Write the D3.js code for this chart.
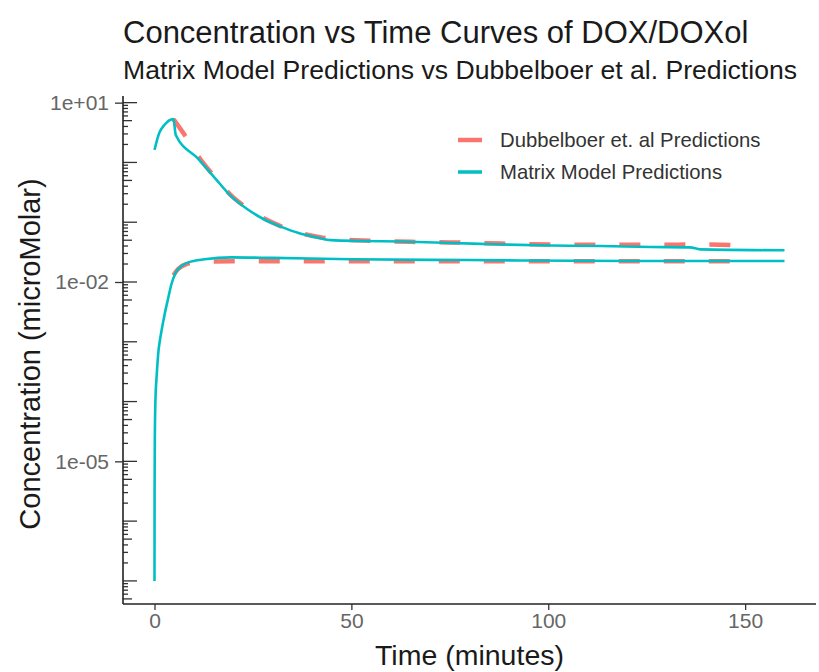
<!DOCTYPE html>
<html>
<head>
<meta charset="utf-8">
<script src="https://cdn.jsdelivr.net/npm/d3@7/dist/d3.min.js"></script>
<style>
  html, body { margin: 0; padding: 0; background: #ffffff; }
  svg { display: block; font-family: "Liberation Sans", Arial, sans-serif; }
</style>
</head>
<body>
<svg id="chart" width="819" height="672"></svg>
<script>
// ---- Data ----
const titleText = "Concentration vs Time Curves of DOX/DOXol";
const subtitleText = "Matrix Model Predictions vs Dubbelboer et al. Predictions";
const xTitle = "Time (minutes)";
const yTitle = "Concentration (microMolar)";
const seriesNames = ["Dubbelboer et. al Predictions", "Matrix Model Predictions"];
const xTicks = [0, 50, 100, 150];
const yTicks = [1e1, 1e-2, 1e-5];
const yTickLabels = ["1e+01", "1e-02", "1e-05"];

// Matrix model, DOX (upper curve)
const matrixDoxTime = [0, 1.2, 2.5, 4.8, 5.4, 11.1, 15.3, 19.5, 23.7, 27.9, 32.2, 36.4, 41.5, 44.8, 52.5, 62.6, 75.3, 88, 100.6, 113.3, 126, 136, 138.6, 160];
const matrixDoxConc = [1.62, 3.10, 4.22, 5.31, 2.88, 1.15, 0.553, 0.270, 0.163, 0.111, 0.0837, 0.0665, 0.0550, 0.0501, 0.0485, 0.0476, 0.0450, 0.0425, 0.0408, 0.0400, 0.0386, 0.0380, 0.0351, 0.0339];
// Matrix model, DOXol (lower curve)
const matrixDoxolTime = [0, 0.02, 0.08, 0.25, 0.5, 0.76, 1.01, 1.39, 1.77, 2.53, 3.42, 4.3, 5.3, 6.8, 8.6, 12.7, 19.5, 30, 50, 80, 120, 160];
const matrixDoxolConc = [1.0e-7, 3e-6, 2.4e-5, 1.12e-4, 2.40e-4, 4.45e-4, 7.03e-4, 1.07e-3, 1.51e-3, 2.79e-3, 5.16e-3, 9.17e-3, 0.0140, 0.0183, 0.0213, 0.0240, 0.0258, 0.0253, 0.0240, 0.0233, 0.0224, 0.0224];
// Dubbelboer et al., DOX
const dubDoxTime = [4.8, 8, 11, 15, 20, 24, 28, 32, 36, 42, 48, 55, 65, 75, 88, 100, 113, 126, 140, 150];
const dubDoxConc = [5.31, 2.67, 1.30, 0.60, 0.26, 0.165, 0.114, 0.086, 0.069, 0.056, 0.051, 0.049, 0.047, 0.046, 0.044, 0.0425, 0.042, 0.0418, 0.0424, 0.0408];
// Dubbelboer et al., DOXol
const dubDoxolTime = [4.8, 6, 8, 11, 15, 20, 30, 50, 80, 120, 150];
const dubDoxolConc = [0.0130, 0.0165, 0.0198, 0.0212, 0.0220, 0.0222, 0.0222, 0.0222, 0.0222, 0.0222, 0.0222];

const colors = ["#F8766D", "#00BFC4"];

// ---- Layout ----
const svg = d3.select("#chart");
const padL = 123, padR = 816, padT = 96, padB = 604;

const allTimes = [].concat(matrixDoxTime, matrixDoxolTime, dubDoxTime, dubDoxolTime);
const allConc = [].concat(matrixDoxConc, matrixDoxolConc, dubDoxConc, dubDoxolConc);
const [tMin, tMax] = d3.extent(allTimes);
const tPad = (tMax - tMin) * 0.05;
const x = d3.scaleLinear().domain([tMin - tPad, tMax + tPad]).range([padL, padR]);

const lMin = Math.log10(d3.min(allConc)), lMax = Math.log10(d3.max(allConc));
const lPad = (lMax - lMin) * 0.05;
const y = d3.scaleLog().domain([Math.pow(10, lMin - lPad), Math.pow(10, lMax + lPad)]).range([padB, padT]);

// ---- Titles ----
svg.append("text").attr("x", padL).attr("y", 43)
  .attr("font-size", 31).attr("fill", "#1a1a1a").text(titleText);
svg.append("text").attr("x", padL).attr("y", 79)
  .attr("font-size", 26.6).attr("fill", "#1a1a1a").text(subtitleText);

// ---- Lines ----
const line = d3.line().x(d => x(d[0])).y(d => y(d[1])).curve(d3.curveMonotoneX);
const zip = (a, b) => a.map((v, i) => [v, b[i]]);

const plot = svg.append("g");
[[dubDoxTime, dubDoxConc], [dubDoxolTime, dubDoxolConc]].forEach(([t, c]) => {
  plot.append("path").datum(zip(t, c)).attr("d", line)
    .attr("fill", "none").attr("stroke", colors[0]).attr("stroke-width", 4.5)
    .attr("stroke-dasharray", "21,24");
});
[[matrixDoxTime, matrixDoxConc], [matrixDoxolTime, matrixDoxolConc]].forEach(([t, c]) => {
  plot.append("path").datum(zip(t, c)).attr("d", line)
    .attr("fill", "none").attr("stroke", colors[1]).attr("stroke-width", 2.6)
    .attr("stroke-linejoin", "round");
});

// ---- Log ticks (annotation_logticks on left) ----
const lt = svg.append("g");
const [d0, d1] = y.domain();
for (let e = Math.floor(Math.log10(d0)); e <= Math.ceil(Math.log10(d1)); e++) {
  for (let k = 1; k <= 9; k++) {
    const v = k * Math.pow(10, e);
    if (v < d0 || v > d1) continue;
    const len = k === 1 ? 14 : (k === 5 ? 9 : 5);
    lt.append("line").attr("x1", padL).attr("x2", padL + len)
      .attr("y1", y(v)).attr("y2", y(v))
      .attr("stroke", "#333").attr("stroke-width", 1.3);
  }
}

// ---- Axes ----
const xAxis = svg.append("g").attr("transform", `translate(0,${padB})`)
  .call(d3.axisBottom(x).tickValues(xTicks).tickSize(6).tickPadding(3).tickFormat(d3.format("d")));
const yAxis = svg.append("g").attr("transform", `translate(${padL},0)`)
  .call(d3.axisLeft(y).tickValues(yTicks).tickSize(8).tickPadding(6)
    .tickFormat((d, i) => yTickLabels[i]));
[xAxis, yAxis].forEach(a => {
  a.select(".domain").attr("stroke", "#222").attr("stroke-width", 1.6);
  a.selectAll(".tick line").attr("stroke", "#333").attr("stroke-width", 1.3);
  a.selectAll(".tick text").attr("font-size", 21).attr("fill", "#666")
    .attr("font-family", "Liberation Sans, Arial, sans-serif");
});
xAxis.select(".domain").attr("d", `M${padL},0H${padR}`);
yAxis.select(".domain").attr("d", `M0,${padT}V${padB}`);

// ---- Axis titles ----
svg.append("text").attr("x", (padL + padR) / 2).attr("y", 665)
  .attr("text-anchor", "middle").attr("font-size", 28.5).attr("fill", "#1a1a1a").text(xTitle);
svg.append("text").attr("transform", `translate(40,${(padT + padB) / 2 + 4}) rotate(-90)`)
  .attr("text-anchor", "middle").attr("font-size", 29).attr("fill", "#1a1a1a").text(yTitle);

// ---- Legend ----
const legend = svg.append("g");
seriesNames.forEach((name, i) => {
  const ly = 140 + i * 32;
  legend.append("line").attr("x1", 458).attr("x2", 482).attr("y1", ly).attr("y2", ly)
    .attr("stroke", colors[i]).attr("stroke-width", i === 0 ? 4.5 : 3.5);
  legend.append("text").attr("x", 500).attr("y", ly).attr("dy", "0.35em")
    .attr("font-size", 20.3).attr("fill", "#333").text(name);
});
</script>
</body>
</html>
